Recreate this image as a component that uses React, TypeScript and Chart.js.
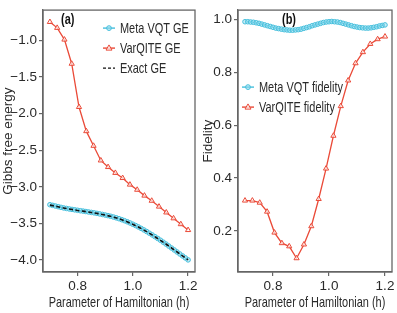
import React, { useEffect, useRef } from "react";
import { Chart, registerables } from "chart.js";
Chart.register(...registerables);

// ---------- data ----------
const hTri = [0.7, 0.7263, 0.7526, 0.7789, 0.8053, 0.8316, 0.8579, 0.8842, 0.9105, 0.9368, 0.9632, 0.9895, 1.0158, 1.0421, 1.0684, 1.0947, 1.1211, 1.1474, 1.1737, 1.2];
const varqiteGE = [-0.75, -0.83, -0.99, -1.32, -1.91, -2.24, -2.44, -2.64, -2.73, -2.81, -2.88, -2.97, -3.04, -3.12, -3.19, -3.27, -3.35, -3.43, -3.51, -3.59];
const varqiteFid = [0.315, 0.315, 0.307, 0.273, 0.194, 0.154, 0.142, 0.097, 0.149, 0.218, 0.321, 0.436, 0.56, 0.672, 0.769, 0.834, 0.876, 0.907, 0.925, 0.935];

const hDense = [0.70, 0.71, 0.72, 0.73, 0.74, 0.75, 0.76, 0.77, 0.78, 0.79, 0.80, 0.81, 0.82, 0.83, 0.84, 0.85, 0.86, 0.87, 0.88, 0.89, 0.90, 0.91, 0.92, 0.93, 0.94, 0.95, 0.96, 0.97, 0.98, 0.99, 1.00, 1.01, 1.02, 1.03, 1.04, 1.05, 1.06, 1.07, 1.08, 1.09, 1.10, 1.11, 1.12, 1.13, 1.14, 1.15, 1.16, 1.17, 1.18, 1.19, 1.20];
const metaGE = [-3.244, -3.253, -3.262, -3.271, -3.280, -3.288, -3.295, -3.302, -3.308, -3.314, -3.320, -3.326, -3.331, -3.337, -3.343, -3.349, -3.355, -3.362, -3.369, -3.377, -3.385, -3.393, -3.402, -3.412, -3.423, -3.435, -3.448, -3.462, -3.477, -3.493, -3.510, -3.528, -3.547, -3.567, -3.588, -3.610, -3.633, -3.656, -3.680, -3.704, -3.729, -3.755, -3.781, -3.808, -3.835, -3.862, -3.889, -3.916, -3.943, -3.970, -3.997];
const metaFid = [0.991, 0.991, 0.990, 0.989, 0.987, 0.985, 0.982, 0.979, 0.976, 0.973, 0.970, 0.967, 0.965, 0.963, 0.961, 0.960, 0.959, 0.959, 0.960, 0.961, 0.963, 0.966, 0.969, 0.972, 0.976, 0.979, 0.982, 0.985, 0.988, 0.990, 0.991, 0.992, 0.991, 0.990, 0.988, 0.985, 0.982, 0.979, 0.976, 0.973, 0.971, 0.969, 0.968, 0.967, 0.967, 0.968, 0.970, 0.972, 0.975, 0.977, 0.979];

const hExact = [0.7, 0.725, 0.75, 0.775, 0.8, 0.825, 0.85, 0.875, 0.9, 0.925, 0.95, 0.975, 1.0, 1.025, 1.05, 1.075, 1.1, 1.125, 1.15, 1.175, 1.2];
const exactGE = [-3.25, -3.268, -3.29, -3.306, -3.322, -3.335, -3.35, -3.366, -3.386, -3.408, -3.436, -3.47, -3.511, -3.558, -3.611, -3.668, -3.73, -3.794, -3.861, -3.929, -3.998];

const xTitle = "Parameter of Hamiltonian (h)";
const yTitleA = "Gibbs free energy";
const yTitleB = "Fidelity";
const legendA = ["Meta VQT GE", "VarQITE GE", "Exact GE"];
const legendB = ["Meta VQT fidelity", "VarQITE fidelity"];

// ---------- styles ----------
const CYAN = "#46bfdc";
const CYAN_FILL = "rgba(150,220,238,0.55)";
const RED = "#ea4a38";
const SPINE = "#666666";
const TEXT = "#2a2a2a";
const FONT = '"Liberation Sans", Arial, sans-serif';
const SQUEEZE = 0.73;

const pts = (xs: number[], ys: number[]) => xs.map((x, i) => ({ x, y: ys[i] }));
const fmt = (v: any) => Number(v).toFixed(1).replace("-", "\u2212");

type Kind = "circle" | "triangle" | "dash";

function drawMarker(ctx: CanvasRenderingContext2D, kind: Kind, x: number, y: number) {
  if (kind === "circle") {
    ctx.setLineDash([]);
    ctx.strokeStyle = CYAN; ctx.fillStyle = CYAN_FILL; ctx.lineWidth = 1;
    ctx.beginPath(); ctx.arc(x, y, 2.4, 0, Math.PI * 2); ctx.fill(); ctx.stroke();
  } else if (kind === "triangle") {
    ctx.setLineDash([]);
    ctx.strokeStyle = RED; ctx.fillStyle = "rgba(255,255,255,0.7)"; ctx.lineWidth = 1;
    ctx.beginPath(); ctx.moveTo(x, y - 3.2); ctx.lineTo(x + 3, y + 2); ctx.lineTo(x - 3, y + 2); ctx.closePath(); ctx.fill(); ctx.stroke();
  }
}

// condensed text, like the reference's narrow typeface
function condText(ctx: CanvasRenderingContext2D, s: string, x: number, y: number) {
  const w = ctx.measureText(s).width;
  ctx.fillText(s, x, y, w * SQUEEZE);
}

function makeOverlay(panel: string, panelDx: number, kinds: Kind[], labels: string[], lx: number, ly: number, gap: number, yTitle: string) {
  return {
    id: "overlay" + panel.replace(/[()]/g, ""),
    afterDraw(chart: any) {
      const { ctx, chartArea: a } = chart;
      ctx.save();
      // frame
      ctx.strokeStyle = SPINE; ctx.lineWidth = 1.3; ctx.setLineDash([]);
      ctx.strokeRect(a.left, a.top, a.right - a.left, a.bottom - a.top);
      // panel label
      ctx.fillStyle = "#111";
      ctx.font = `bold 15px ${FONT}`;
      ctx.textBaseline = "middle"; ctx.textAlign = "left";
      condText(ctx, panel, a.left + panelDx, a.top + 10);
      // legend
      kinds.forEach((kind, i) => {
        const x = a.left + lx;
        const y = a.top + ly + i * gap;
        ctx.lineWidth = 1.4;
        if (kind === "dash") { ctx.strokeStyle = "#111"; ctx.setLineDash([3, 2]); }
        else { ctx.strokeStyle = kind === "circle" ? CYAN : RED; ctx.setLineDash([]); }
        ctx.beginPath(); ctx.moveTo(x, y); ctx.lineTo(x + 12, y); ctx.stroke();
        drawMarker(ctx, kind, x + 6, y);
        ctx.fillStyle = TEXT; ctx.font = `15px ${FONT}`;
        ctx.textAlign = "left";
        condText(ctx, labels[i], x + 17, y + 0.5);
      });
      // axis titles
      ctx.fillStyle = TEXT; ctx.font = `15px ${FONT}`;
      ctx.textAlign = "center"; ctx.textBaseline = "middle";
      condText(ctx, xTitle, (a.left + a.right) / 2, chart.height - 10);
      ctx.save();
      ctx.translate(8.5, (a.top + a.bottom) / 2);
      ctx.rotate(-Math.PI / 2);
      ctx.font = `13.5px ${FONT}`;
      ctx.fillText(yTitle, 0, 0);
      ctx.restore();
      ctx.restore();
    },
  };
}

function axisCommon(min: number, max: number, step: number, fit: (s: any) => void) {
  return {
    type: "linear" as const,
    min, max,
    ticks: { stepSize: step, includeBounds: false, font: { family: FONT, size: 13.5 }, color: TEXT, padding: 2, callback: (v: any) => fmt(v) },
    grid: { display: true, drawOnChartArea: false, drawTicks: true, tickLength: 4, color: SPINE, lineWidth: 1.2 },
    border: { display: true, color: SPINE, width: 1.3 },
    title: { display: false },
    afterFit: fit,
  };
}

function useChart(ref: React.RefObject<HTMLCanvasElement>, makeConfig: () => any) {
  useEffect(() => {
    if (!ref.current) return;
    const c = new Chart(ref.current, makeConfig());
    return () => c.destroy();
  }, []);
}

export default function App() {
  const refA = useRef<HTMLCanvasElement>(null);
  const refB = useRef<HTMLCanvasElement>(null);

  useChart(refA, () => ({
    type: "line",
    data: {
      datasets: [
        { label: legendA[2], data: pts(hExact, exactGE), borderColor: "#111", borderDash: [4, 2.5], borderWidth: 1.6, pointRadius: 0, order: 0 },
        { label: legendA[1], data: pts(hTri, varqiteGE), borderColor: RED, borderWidth: 1.3, pointStyle: "triangle", pointRadius: 3, pointBorderWidth: 1, pointBackgroundColor: "rgba(255,255,255,0.7)", pointBorderColor: RED, order: 1 },
        { label: legendA[0], data: pts(hDense, metaGE), borderColor: CYAN, borderWidth: 1.2, pointStyle: "circle", pointRadius: 2.3, pointBorderWidth: 1, pointBackgroundColor: CYAN_FILL, pointBorderColor: CYAN, order: 2 },
      ],
    },
    options: {
      animation: false, responsive: false, maintainAspectRatio: false,
      layout: { padding: { top: 3, right: 2, left: 0, bottom: 0 } },
      plugins: { legend: { display: false }, tooltip: { enabled: false } },
      scales: {
        x: axisCommon(0.675, 1.225, 0.2, (s: any) => { s.height = 41; }),
        y: axisCommon(-4.1625, -0.5875, 0.5, (s: any) => { s.width = 43; }),
      },
    },
    plugins: [makeOverlay("(a)", 18, ["circle", "triangle", "dash"], legendA, 60, 18, 20, yTitleA)],
  }));

  useChart(refB, () => ({
    type: "line",
    data: {
      datasets: [
        { label: legendB[1], data: pts(hTri, varqiteFid), borderColor: RED, borderWidth: 1.3, pointStyle: "triangle", pointRadius: 3, pointBorderWidth: 1, pointBackgroundColor: "rgba(255,255,255,0.7)", pointBorderColor: RED, order: 1 },
        { label: legendB[0], data: pts(hDense, metaFid), borderColor: CYAN, borderWidth: 1.2, pointStyle: "circle", pointRadius: 2.3, pointBorderWidth: 1, pointBackgroundColor: CYAN_FILL, pointBorderColor: CYAN, order: 2 },
      ],
    },
    options: {
      animation: false, responsive: false, maintainAspectRatio: false,
      layout: { padding: { top: 3, right: 4, left: 0, bottom: 0 } },
      plugins: { legend: { display: false }, tooltip: { enabled: false } },
      scales: {
        x: axisCommon(0.675, 1.225, 0.2, (s: any) => { s.height = 41; }),
        y: axisCommon(0.045, 1.035, 0.2, (s: any) => { s.width = 38; }),
      },
    },
    plugins: [makeOverlay("(b)", 44, ["circle", "triangle"], legendB, 4, 77, 20, yTitleB)],
  }));

  return (
    <div style={{ position: "absolute", left: 0, top: 0, width: 397, height: 313, background: "#fff" }}>
      <canvas ref={refA} width={200} height={313} style={{ position: "absolute", left: 0, top: 0, width: 200, height: 313 }} />
      <canvas ref={refB} width={197} height={313} style={{ position: "absolute", left: 200, top: 0, width: 197, height: 313 }} />
    </div>
  );
}
